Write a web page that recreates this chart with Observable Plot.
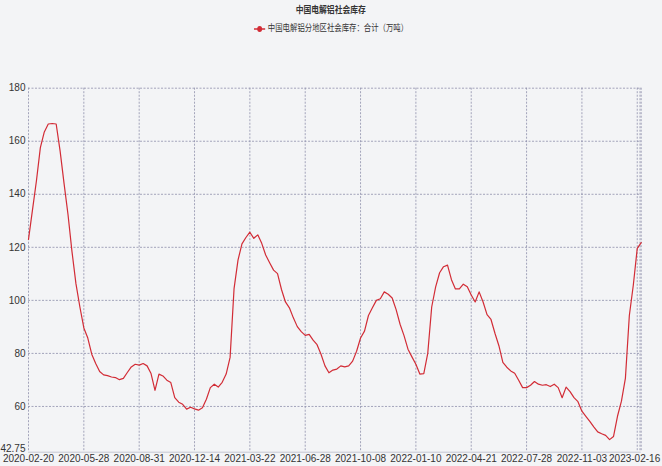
<!DOCTYPE html>
<html>
<head>
<meta charset="utf-8">
<script src="https://cdn.jsdelivr.net/npm/d3@7"></script>
<script src="https://cdn.jsdelivr.net/npm/@observablehq/plot@0.6"></script>
<style>
  html, body { margin: 0; padding: 0; }
  body { width: 662px; height: 466px; overflow: hidden; background: #f3f4f6; font-family: "Noto Sans CJK SC", "Liberation Sans", sans-serif; color: #333; }
  #hdr { position: relative; height: 45px; }
  #title { position: absolute; top: 3px; left: 0; width: 662px; text-align: center; font-size: 9.5px; font-weight: bold; line-height: 13px; }
  #legend { position: absolute; top: 21px; left: 0; width: 662px; text-align: center; font-size: 9px; line-height: 13px; }
  .sq { display: inline-block; transform: scaleX(0.82); white-space: nowrap; }
  #legend svg { vertical-align: middle; margin-right: 3px; }
</style>
</head>
<body>
<div id="hdr">
  <div id="title"><span class="sq"></span></div>
  <div id="legend"><span class="sq"><svg width="14" height="8"><line x1="0" y1="4" x2="14" y2="4" stroke="#d22c36" stroke-width="1.5"/><circle cx="7" cy="4" r="3" fill="#d22c36"/></svg><span id="legtext"></span></span></div>
</div>
<div id="chart"></div>
<script>
const chartTitle = "中国电解铝社会库存";
const seriesName = "中国电解铝分地区社会库存：合计（万吨）";

const tickLabels = ["2020-02-20","2020-05-28","2020-08-31","2020-12-14","2021-03-22","2021-06-28","2021-10-08","2022-01-10","2022-04-21","2022-07-28","2022-11-03","2023-02-16"];
const tickIndex = [0,14,28,42,56,70,84,98,112,126,140,155];
const gridIndex = [0,14,28,42,56,70,84,98,112,126,140,154,154.7,155];
const yTicks = [42.75,60,80,100,120,140,160,180];

const values = [
  123,134,145,157.6,163.5,166.5,166.7,166.5,156.3,144,
  132.3,118.4,106.3,97.5,89.6,85.8,79.7,76.2,73.2,71.9,
  71.6,71.1,70.9,70.1,70.6,72.8,74.9,75.9,75.6,76.2,
  75.3,72.4,66.1,72.2,71.5,69.9,69.0,63.3,61.6,60.8,
  59.0,59.7,59.1,58.6,59.5,62.7,67.1,68.4,67.3,69.1,
  72.2,78.5,104.4,115.2,121.3,123.7,125.7,123.4,124.7,121.5,
  117.1,114.2,111.4,110.1,104.1,99.4,97.2,93.4,90.1,88.2,
  86.8,87.2,85.0,83.3,79.7,75.3,72.7,73.7,74.1,75.3,
  74.9,75.3,77.1,80.8,85.8,88.4,94.3,97.2,100.0,100.6,
  103.2,102.3,100.9,96.5,91.0,86.7,81.6,78.7,75.9,72.2,
  72.4,80,97.5,105.1,110.4,112.7,113.3,107.8,104.3,104.3,
  106.1,105.1,102.0,99.4,103.2,99.4,94.6,92.8,87.6,82.9,
  76.6,74.8,73.4,72.5,69.9,67.1,67.1,68.0,69.4,68.4,
  68.0,68.2,67.5,68.4,67.1,63.3,67.3,65.6,63.3,61.8,
  58.2,56.3,54.4,52.3,50.4,49.7,49.1,47.5,48.7,56.3,
  62.0,70.6,94.3,105.7,119.6,121.8
];

document.querySelector("#title .sq").textContent = chartTitle;
document.getElementById("legtext").textContent = seriesName;

const data = values.map((v, i) => ({i, v}));
const labelOf = new Map(tickIndex.map((t, k) => [t, tickLabels[k]]));
const gridColor = "#8e8fab";
const axisFont = "'Liberation Sans Narrow', 'Arial Narrow', 'Liberation Sans', sans-serif";
const lastTick = tickIndex[tickIndex.length - 1];

const chart = Plot.plot({
  width: 662,
  height: 421,
  marginTop: 42.7,
  marginBottom: 14.3,
  marginLeft: 28,
  marginRight: 21.3,
  style: {background: "transparent", color: "#333", fontFamily: axisFont, fontSize: "10px", overflow: "visible"},
  x: {type: "linear", domain: [0, values.length - 1], axis: null},
  y: {domain: [42.75, 180], axis: null},
  marks: [
    Plot.ruleY(yTicks.slice(1), {stroke: gridColor, strokeWidth: 0.8, strokeDasharray: "2,1.5"}),
    Plot.ruleX(gridIndex, {stroke: gridColor, strokeWidth: 0.8, strokeDasharray: "2,1.5"}),
    Plot.ruleY([42.75], {stroke: "#c5c7d3", strokeWidth: 1}),
    Plot.axisX(tickIndex.filter(t => t !== lastTick), {anchor: "bottom", label: null, tickSize: 0, tickPadding: 3, tickFormat: d => labelOf.get(d), fontSize: 10}),
    Plot.axisX([lastTick], {anchor: "bottom", label: null, tickSize: 0, tickPadding: 3, tickFormat: d => labelOf.get(d), fontSize: 10, textAnchor: "end", dx: 19}),
    Plot.axisY(yTicks.slice(1), {anchor: "left", label: null, tickSize: 0, tickPadding: 3, tickFormat: d => String(d), fontSize: 10}),
    Plot.axisY([yTicks[0]], {anchor: "left", label: null, tickSize: 0, tickPadding: 3, tickFormat: d => String(d), fontSize: 10, dy: -3.5}),
    Plot.line(data, {x: "i", y: "v", stroke: "#d22c36", strokeWidth: 1.2})
  ]
});
document.getElementById("chart").appendChild(chart);
</script>
</body>
</html>
